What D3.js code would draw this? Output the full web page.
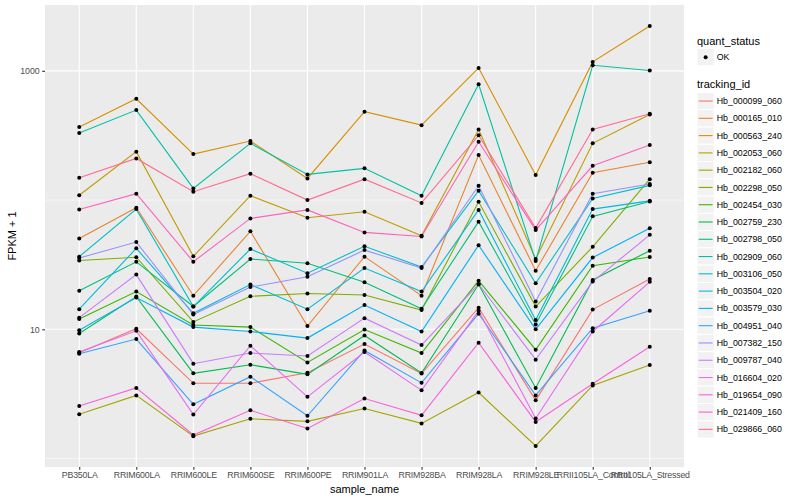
<!DOCTYPE html>
<html>
<head>
<meta charset="utf-8">
<script src="https://cdn.jsdelivr.net/npm/d3@7"></script>
<style>
  body { margin: 0; background: #ffffff; }
  text { font-family: "Liberation Sans", Arial, Helvetica, sans-serif; }
</style>
</head>
<body>
<svg id="chart" width="800" height="500"></svg>
<script>
// ---------------- data ----------------
const samples = ["PB350LA", "RRIM600LA", "RRIM600LE", "RRIM600SE", "RRIM600PE", "RRIM901LA",
  "RRIM928BA", "RRIM928LA", "RRIM928LE", "RRII105LA_Control", "RRII105LA_Stressed"];

const trackingIds = ["Hb_000099_060", "Hb_000165_010", "Hb_000563_240", "Hb_002053_060",
  "Hb_002182_060", "Hb_002298_050", "Hb_002454_030", "Hb_002759_230", "Hb_002798_050",
  "Hb_002909_060", "Hb_003106_050", "Hb_003504_020", "Hb_003579_030", "Hb_004951_040",
  "Hb_007382_150", "Hb_009787_040", "Hb_016604_020", "Hb_019654_090", "Hb_021409_160",
  "Hb_029866_060"];

// FPKM + 1 per sample (order of samples)
const hb_000099_060 = [6.59, 10.1, 3.82, 3.82, 4.61, 7.69, 4.54, 14.7, 2.82, 14.2, 24.5];
const hb_000165_010 = [50.4, 87.1, 18.2, 57.3, 10.6, 36.5, 18.2, 223, 28.4, 163, 196];
const hb_000563_240 = [367, 608, 227, 286, 147, 483, 380, 1054, 156, 1173, 2223];
const hb_002053_060 = [109, 237, 36.7, 108, 72.9, 81.1, 52.9, 352, 35, 275, 460];
const hb_002182_060 = [2.20, 3.08, 1.49, 2.03, 1.94, 2.44, 1.87, 3.24, 1.25, 3.68, 5.30];
const hb_002298_050 = [34.1, 36.1, 11.4, 18.0, 18.9, 18.4, 14.1, 96.9, 15.0, 43.5, 145];
const hb_002454_030 = [12.0, 19.6, 10.8, 10.4, 5.54, 9.96, 6.55, 23.8, 6.95, 31.0, 36.3];
const hb_002759_230 = [9.29, 17.9, 4.56, 5.32, 4.48, 8.95, 4.59, 22.2, 3.52, 24.1, 40.6];
const hb_002798_050 = [19.9, 33.3, 15.0, 35.0, 32.4, 23.1, 14.4, 68.1, 10.9, 74.8, 97.5];
const hb_002909_060 = [330, 497, 123, 275, 158, 176, 108, 788, 33.8, 1104, 1005];
const hb_003106_050 = [36.5, 85.1, 15.0, 41.8, 27.2, 43.9, 30.3, 118, 22.7, 103, 130];
const hb_003504_020 = [14.3, 42.3, 13.3, 22.2, 14.3, 29.8, 19.6, 83.9, 11.8, 85.1, 98.6];
const hb_003579_030 = [9.82, 17.6, 10.4, 9.62, 8.55, 15.4, 9.62, 44.7, 10.0, 35.9, 60.4];
const hb_004951_040 = [6.47, 8.40, 2.63, 4.30, 2.14, 6.86, 3.85, 13.2, 3.08, 10.2, 13.9];
const hb_007382_150 = [35.6, 47.3, 13.0, 21.2, 25.5, 41.0, 29.8, 129, 16.4, 112, 133];
const hb_009787_040 = [12.3, 26.5, 5.42, 6.55, 6.21, 12.2, 7.55, 22.4, 5.82, 23.4, 53.8];
const hb_016604_020 = [6.66, 9.73, 2.19, 7.46, 3.00, 6.67, 3.37, 13.9, 2.04, 9.62, 23.3];
const hb_019654_090 = [2.55, 3.52, 1.52, 2.36, 1.71, 2.91, 2.16, 7.87, 1.92, 3.79, 7.33];
const hb_021409_160 = [84.6, 112, 33.3, 72.1, 83.9, 56.2, 52.2, 283, 58.6, 184, 267];
const hb_029866_060 = [149, 210, 116, 160, 100, 145, 95, 317, 60.7, 352, 466];

const yBreaks = [10, 1000];
const yMinorBreaks = [1, 100];
const quantStatus = ["OK"];

// ---------------- styles ----------------
const palette = ["#F8766D", "#EA8331", "#D89000", "#C09B00", "#A3A500", "#7CAE00", "#39B600",
  "#00BB4E", "#00BF7D", "#00C1A3", "#00BFC4", "#00BAE0", "#00B0F6", "#35A2FF", "#9590FF",
  "#C77CFF", "#E76BF3", "#FA62DB", "#FF62BC", "#FF6C91"];

const seriesValues = [hb_000099_060, hb_000165_010, hb_000563_240, hb_002053_060, hb_002182_060,
  hb_002298_050, hb_002454_030, hb_002759_230, hb_002798_050, hb_002909_060, hb_003106_050,
  hb_003504_020, hb_003579_030, hb_004951_040, hb_007382_150, hb_009787_040, hb_016604_020,
  hb_019654_090, hb_021409_160, hb_029866_060];

const series = trackingIds.map((id, i) => ({
  id, color: palette[i],
  points: samples.map((s, j) => ({ sample: s, value: seriesValues[i][j] }))
}));

// ---------------- layout ----------------
const svg = d3.select("#chart");
const panel = { left: 45, right: 684, top: 5, bottom: 467 };

const x = d3.scalePoint().domain(samples).range([panel.left, panel.right]).padding(0.6);

const allVals = seriesValues.flat();
const lmin = Math.log10(d3.min(allVals)), lmax = Math.log10(d3.max(allVals));
const pad = (lmax - lmin) * 0.05;
const y = d3.scaleLog().domain([Math.pow(10, lmin - pad), Math.pow(10, lmax + pad)])
  .range([panel.bottom, panel.top]);

// panel background
svg.append("rect").attr("x", panel.left).attr("y", panel.top)
  .attr("width", panel.right - panel.left).attr("height", panel.bottom - panel.top)
  .attr("fill", "#EBEBEB");

// grid
const grid = svg.append("g");
grid.selectAll(".ymin").data(yMinorBreaks).join("line")
  .attr("x1", panel.left).attr("x2", panel.right)
  .attr("y1", d => y(d)).attr("y2", d => y(d))
  .attr("stroke", "#ffffff").attr("stroke-width", 0.55);
grid.selectAll(".ymaj").data(yBreaks).join("line")
  .attr("x1", panel.left).attr("x2", panel.right)
  .attr("y1", d => y(d)).attr("y2", d => y(d))
  .attr("stroke", "#ffffff").attr("stroke-width", 1.1);
grid.selectAll(".xmaj").data(samples).join("line")
  .attr("x1", d => x(d)).attr("x2", d => x(d))
  .attr("y1", panel.top).attr("y2", panel.bottom)
  .attr("stroke", "#ffffff").attr("stroke-width", 1.1);

// lines
const line = d3.line().x(d => x(d.sample)).y(d => y(d.value));
svg.append("g").selectAll("path").data(series).join("path")
  .attr("d", d => line(d.points))
  .attr("fill", "none").attr("stroke", d => d.color).attr("stroke-width", 1.1);

// points
svg.append("g").selectAll("g").data(series).join("g")
  .selectAll("circle").data(d => d.points).join("circle")
  .attr("cx", d => x(d.sample)).attr("cy", d => y(d.value)).attr("r", 2)
  .attr("fill", "#000000");

// axes
const yAxis = svg.append("g").attr("transform", `translate(${panel.left},0)`)
  .call(d3.axisLeft(y).tickValues(yBreaks).tickFormat(d3.format("d")).tickSize(2.75).tickPadding(2.5));
const xAxis = svg.append("g").attr("transform", `translate(0,${panel.bottom})`)
  .call(d3.axisBottom(x).tickSize(2.75).tickPadding(2.5));
[yAxis, xAxis].forEach(a => {
  a.select(".domain").remove();
  a.selectAll(".tick line").attr("stroke", "#333333").attr("stroke-width", 1.1);
  a.selectAll(".tick text").attr("fill", "#4D4D4D").style("font-size", "8.8px");
});
xAxis.selectAll(".tick text").style("letter-spacing", "-0.2px");

// axis titles
svg.append("text").attr("x", (panel.left + panel.right) / 2).attr("y", 493)
  .attr("text-anchor", "middle").style("font-size", "11px").attr("fill", "#000")
  .text("sample_name");
svg.append("text").attr("transform", `translate(16,${(panel.top + panel.bottom) / 2}) rotate(-90)`)
  .attr("text-anchor", "middle").style("font-size", "11px").attr("fill", "#000")
  .text("FPKM + 1");

// legends
const lg = svg.append("g").attr("transform", "translate(697,0)");
const keyW = 17.28;
lg.append("text").attr("x", 0).attr("y", 44.5).style("font-size", "11px").text("quant_status");
const qk = lg.selectAll(".qk").data(quantStatus).join("g")
  .attr("transform", (d, i) => `translate(0,${48.5 + i * keyW})`);
qk.append("rect").attr("width", keyW).attr("height", keyW).attr("fill", "#F2F2F2")
  .attr("stroke", "#ffffff").attr("stroke-width", 1);
qk.append("circle").attr("cx", keyW / 2).attr("cy", keyW / 2).attr("r", 2).attr("fill", "#000");
qk.append("text").attr("x", keyW + 2.5).attr("y", keyW / 2 + 3.1).style("font-size", "8.8px").text(d => d);

lg.append("text").attr("x", 0).attr("y", 88.3).style("font-size", "11px").text("tracking_id");
const tk = lg.selectAll(".tk").data(series).join("g")
  .attr("transform", (d, i) => `translate(0,${92.4 + i * keyW})`);
tk.append("rect").attr("width", keyW).attr("height", keyW).attr("fill", "#F2F2F2")
  .attr("stroke", "#ffffff").attr("stroke-width", 1);
tk.append("line").attr("x1", 1.7).attr("x2", keyW - 1.7).attr("y1", keyW / 2).attr("y2", keyW / 2)
  .attr("stroke", d => d.color).attr("stroke-width", 1.1);
tk.append("text").attr("x", keyW + 2.5).attr("y", keyW / 2 + 3.1).style("font-size", "8.8px").text(d => d.id);
</script>
</body>
</html>
